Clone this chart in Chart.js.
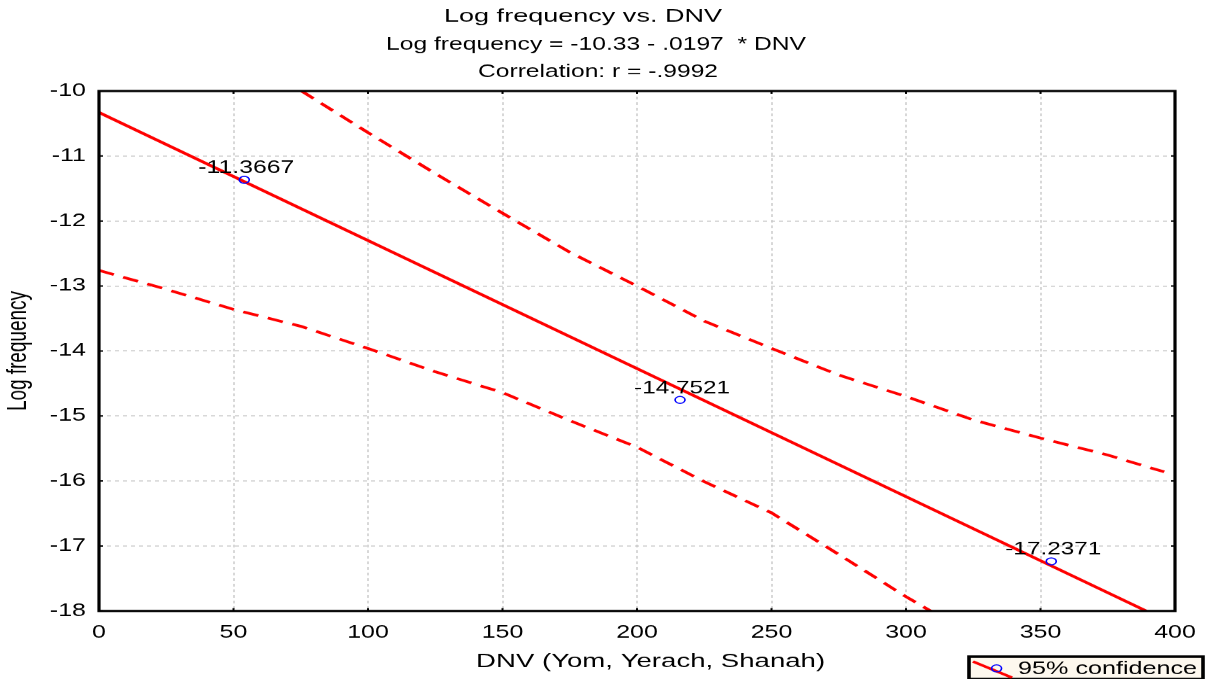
<!DOCTYPE html>
<html>
<head>
<meta charset="utf-8">
<script src="https://cdn.jsdelivr.net/npm/chart.js@4/dist/chart.umd.min.js"></script>
<style>
  html, body { margin: 0; padding: 0; background: #fff; }
  #wrap { width: 1207px; height: 679px; overflow: hidden; position: relative; }
  /* the reference is a small plot stretched wider than tall */
  #c { position: absolute; left: 0; top: 0; transform: scale(2, 1.4); transform-origin: 0 0; display: block; }
</style>
</head>
<body>
<div id="wrap"><canvas id="c" width="604" height="485"></canvas></div>
<script>
// observed points
const dnv = [54, 216, 354];
const logFreq = [-11.3667, -14.7521, -17.2371];

// fitted line, Log frequency = -10.33 - .0197 * DNV
const fitX = [0, 389.3];
const fitY = [-10.33, -18.0];

// 95% confidence bands
const upperX = [75.3, 100, 125, 150, 175, 200, 225, 250, 275, 300, 325, 350, 375, 396];
const upperY = [-10, -10.64, -11.27, -11.88, -12.48, -13.0, -13.54, -13.96, -14.37, -14.70, -15.06, -15.34, -15.60, -15.86];
const lowerX = [0, 25, 50, 75, 100, 125, 150, 175, 200, 225, 250, 275, 300, 310];
const lowerY = [-12.76, -13.05, -13.36, -13.62, -13.96, -14.32, -14.64, -15.07, -15.48, -16.01, -16.49, -17.13, -17.78, -18.02];

const titleLines = ['Log frequency vs. DNV', 'Log frequency = -10.33 - .0197  * DNV', 'Correlation: r = -.9992'];
const xTitle = 'DNV (Yom, Yerach, Shanah)';
const yTitle = 'Log frequency';
const legendText = '95% confidence';

const FONT = '"Liberation Sans", Arial, sans-serif';
const pts = (xs, ys) => xs.map((x, i) => ({ x: x, y: ys[i] }));

// draw centred text squeezed/stretched to a given width
function fitText(ctx, text, cx, cy, w) {
  const m = ctx.measureText(text).width;
  ctx.save();
  ctx.translate(cx, cy);
  ctx.scale(w / m, 1);
  ctx.textAlign = 'center';
  ctx.fillText(text, 0, 0);
  ctx.restore();
}

const extras = {
  id: 'extras',
  afterDraw(chart) {
    const ctx = chart.ctx;
    const a = chart.chartArea;
    const xs = chart.scales.x, ys = chart.scales.y;
    ctx.save();
    // frame + small inner tick marks
    ctx.strokeStyle = '#000';
    ctx.lineWidth = 1.6;
    ctx.strokeRect(a.left, a.top, a.right - a.left, a.bottom - a.top);
    ctx.lineWidth = 1;
    ctx.beginPath();
    ys.ticks.forEach(t => {
      const py = ys.getPixelForValue(t.value);
      ctx.moveTo(a.left, py); ctx.lineTo(a.left + 2, py);
      ctx.moveTo(a.right, py); ctx.lineTo(a.right - 2, py);
    });
    xs.ticks.forEach(t => {
      const px = xs.getPixelForValue(t.value);
      ctx.moveTo(px, a.top); ctx.lineTo(px, a.top + 2);
      ctx.moveTo(px, a.bottom); ctx.lineTo(px, a.bottom - 2);
    });
    ctx.stroke();

    // title
    ctx.fillStyle = '#000';
    ctx.textBaseline = 'middle';
    ctx.font = '12.5px ' + FONT;
    const tx = [291.5, 298, 299], ty = [12.1, 32.1, 51.4], tw = [139, 210, 120];
    titleLines.forEach((t, i) => fitText(ctx, t, tx[i], ty[i], tw[i]));

    // point value labels
    dnv.forEach((x, i) => {
      fitText(ctx, logFreq[i].toFixed(4), xs.getPixelForValue(x) + 1, ys.getPixelForValue(logFreq[i]) - 8.2, 48);
    });

    // x axis title
    ctx.font = '13.5px ' + FONT;
    fitText(ctx, xTitle, 325.3, 473, 174.5);

    // legend box
    ctx.fillStyle = '#fdf8ee';
    ctx.fillRect(484.5, 469, 117, 16);
    ctx.strokeStyle = '#000';
    ctx.lineWidth = 1.8;
    ctx.strokeRect(484.5, 469, 117, 16);
    ctx.strokeStyle = '#ff0000';
    ctx.lineWidth = 1.8;
    ctx.beginPath();
    ctx.moveTo(486.5, 472.5);
    ctx.lineTo(506, 484);
    ctx.stroke();
    ctx.strokeStyle = '#0000ff';
    ctx.lineWidth = 0.8;
    ctx.beginPath();
    ctx.arc(498.3, 477.4, 2.5, 0, Math.PI * 2);
    ctx.stroke();
    ctx.fillStyle = '#000';
    ctx.font = '12.5px ' + FONT;
    fitText(ctx, legendText, 553.8, 478, 89.5);
    ctx.restore();
  }
};

new Chart(document.getElementById('c'), {
  type: 'scatter',
  data: {
    datasets: [
      {
        label: 'fit',
        data: pts(fitX, fitY),
        showLine: true,
        borderColor: '#ff0000',
        borderWidth: 1.9,
        pointRadius: 0,
        order: 2
      },
      {
        label: 'upper',
        data: pts(upperX, upperY),
        showLine: true,
        borderColor: '#ff0000',
        borderWidth: 1.9,
        borderDash: [8, 5],
        pointRadius: 0,
        order: 3
      },
      {
        label: 'lower',
        data: pts(lowerX, lowerY),
        showLine: true,
        borderColor: '#ff0000',
        borderWidth: 1.9,
        borderDash: [8, 5],
        pointRadius: 0,
        order: 3
      },
      {
        label: 'Log frequency',
        data: pts(dnv, logFreq),
        showLine: false,
        pointRadius: 2.5,
        pointBorderWidth: 0.8,
        pointBorderColor: '#0000ff',
        pointBackgroundColor: 'rgba(255,255,255,0)',
        order: 1
      }
    ]
  },
  options: {
    responsive: false,
    animation: false,
    devicePixelRatio: 2,
    layout: { padding: { top: 65, right: 16.5, left: 0, bottom: 0 } },
    plugins: {
      legend: { display: false },
      tooltip: { enabled: false },
      title: { display: false }
    },
    scales: {
      x: {
        type: 'linear',
        min: 0,
        max: 400,
        ticks: { stepSize: 50, color: '#000', font: { family: FONT, size: 12.5 }, padding: 8, maxRotation: 0 },
        grid: { color: '#c8c8c8', lineWidth: 0.7, drawTicks: false },
        border: { display: false, dash: [2, 2] },
        title: { display: false, text: xTitle },
        afterFit(s) { s.height = 48.6; s.paddingLeft = 0; s.paddingRight = 0; }
      },
      y: {
        min: -18,
        max: -10,
        ticks: { stepSize: 1, color: '#000', font: { family: FONT, size: 12.5 }, padding: 6.5 },
        grid: { color: '#c8c8c8', lineWidth: 0.7, drawTicks: false },
        border: { display: false, dash: [2, 2] },
        title: { display: true, text: yTitle, color: '#000', font: { family: FONT, size: 13.5 }, padding: { top: 1, bottom: 0 } },
        afterFit(s) { s.width = 49.5; s.paddingTop = 0; s.paddingBottom = 0; }
      }
    }
  },
  plugins: [extras]
});
</script>
</body>
</html>
